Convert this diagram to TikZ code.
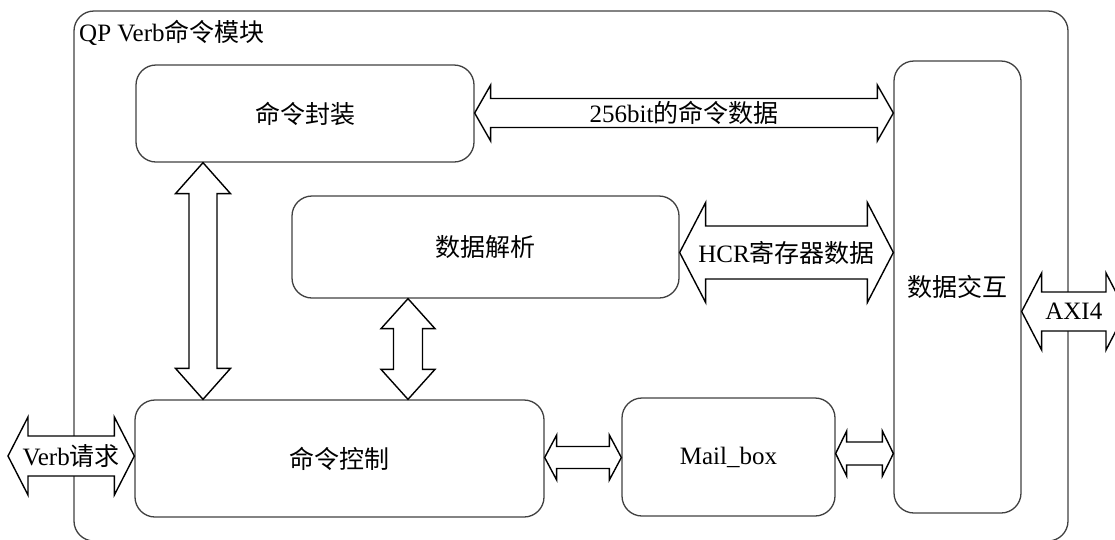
\documentclass[tikz,border=0pt]{standalone}
\usepackage{fontspec}
\setmainfont{Liberation Serif}
\newfontfamily\cjk{Noto Sans CJK SC}
\usetikzlibrary{calc}
\definecolor{boxgray}{HTML}{404040}
\tikzset{
  x=1pt, y=1pt,
  blk/.style={draw=boxgray, line width=1.3pt, rounded corners=20pt, inner sep=0pt,
              font=\fontsize{25}{29}\selectfont},
  fat/.style={draw=black, fill=white, line width=1.4pt, line join=miter},
  lbl/.style={inner sep=0pt, font=\fontsize{25}{29}\selectfont},
}
% horizontal double-headed block arrow with a label on its shaft
% #1 left tip, #2 right tip, #3 shaft half height, #4 head half height,
% #5 head length, #6 label node name, #7 label text, #8 extra label options
\newcommand\hfat[8]{%
  \draw[fat] let \p1=(#1), \p2=(#2) in
    (\x1,\y1) -- (\x1+#5,\y1+#4) -- (\x1+#5,\y1+#3) -- (\x2-#5,\y1+#3)
    -- (\x2-#5,\y1+#4) -- (\x2,\y1) -- (\x2-#5,\y1-#4) -- (\x2-#5,\y1-#3)
    -- (\x1+#5,\y1-#3) -- (\x1+#5,\y1-#4) -- cycle;
  \path let \p1=(#1), \p2=(#2) in
    node[lbl,#8] (#6) at ({(\x1+\x2)/2},\y1) {#7};
}
% vertical double-headed block arrow
% #1 top tip, #2 bottom tip, #3 shaft half width, #4 head half width, #5 head length
\newcommand\vfat[5]{%
  \draw[fat] let \p1=(#1), \p2=(#2) in
    (\x1,\y1) -- (\x1+#4,\y1-#5) -- (\x1+#3,\y1-#5) -- (\x1+#3,\y2+#5)
    -- (\x1+#4,\y2+#5) -- (\x1,\y2) -- (\x1-#4,\y2+#5) -- (\x1-#3,\y2+#5)
    -- (\x1-#3,\y1-#5) -- (\x1-#4,\y1-#5) -- cycle;
}
\begin{document}
\begin{tikzpicture}
\clip (0,0) rectangle (1115,-539);

% module frame
\node[blk, minimum width=994pt, minimum height=530pt] (frame) at (571,-276) {};
\node[lbl, anchor=base west] (title) at (79,-41) {QP Verb{\cjk 命令模块}};

% functional blocks
\node[blk, minimum width=338pt, minimum height=97pt]  (pack)  at (305,-113.5) {\cjk 命令封装};
\node[blk, minimum width=387pt, minimum height=102pt] (parse) at (485.5,-247) {\cjk 数据解析};
\node[blk, minimum width=409pt, minimum height=117pt] (ctrl)  at (339.5,-458.5) {\cjk 命令控制};
\node[blk, minimum width=213pt, minimum height=118pt] (mail)  at (728.5,-457) {Mail\_box};
\node[blk, minimum width=127pt, minimum height=452pt] (xchg)  at (957.5,-287) {\cjk 数据交互};

% rows / columns of the block arrows
\coordinate (r256) at (0,-113);
\coordinate (rhcr) at (0,-252.5);
\coordinate (rcm)  at (0,-457.5);
\coordinate (rmx)  at (0,-453.5);
\coordinate (verbin) at (8,-456);
\coordinate (axiout) at (1126,-311.5);
\coordinate (c1) at (203,0);
\coordinate (c2) at (408,0);

\hfat{pack.east |- r256}{xchg.west |- r256}{14.5pt}{28pt}{16pt}{l256}{256bit{\cjk 的命令数据}}{}
\hfat{parse.east |- rhcr}{xchg.west |- rhcr}{26.5pt}{50pt}{26pt}{lhcr}{HCR{\cjk 寄存器数据}}{}
\hfat{verbin}{ctrl.west |- verbin}{20pt}{39pt}{20pt}{lverb}{Verb{\cjk 请求}}{}
\hfat{xchg.east |- axiout}{axiout}{19.5pt}{38.5pt}{20pt}{laxi}{AXI4}{}
\hfat{ctrl.east |- rcm}{mail.west |- rcm}{11pt}{22.5pt}{12pt}{lcm}{}{}
\hfat{mail.east |- rmx}{xchg.west |- rmx}{11.5pt}{22.5pt}{11pt}{lmx}{}{}

\vfat{c1 |- pack.south}{c1 |- ctrl.north}{14pt}{27.5pt}{31pt}
\vfat{c2 |- parse.south}{c2 |- ctrl.north}{14.5pt}{27pt}{30pt}
\end{tikzpicture}
\end{document}
